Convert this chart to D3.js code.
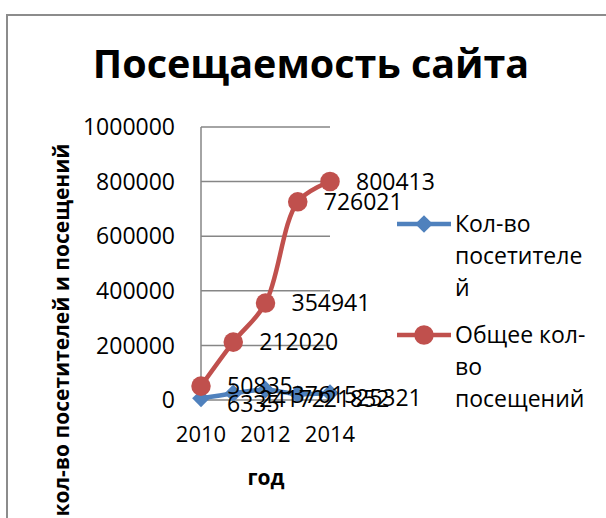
<!DOCTYPE html>
<meta charset="utf-8">
<style>
  body { margin: 0; background: #fff; }
  text { font-family: "Open Sans", sans-serif; fill: #000; }
</style>
<svg width="606" height="518"></svg>
<script src="https://cdn.jsdelivr.net/npm/d3@7"></script>
<script>

var years = [2010, 2011, 2012, 2013, 2014],
    yearTicks = [2010, 2012, 2014],
    visitors = [6335, 24172, 37615, 21852, 25321],
    visits = [50835, 212020, 354941, 726021, 800413],
    valueTicks = [0, 200000, 400000, 600000, 800000, 1000000],
    seriesNames = [["Кол-во", "посетителе", "й"], ["Общее кол-", "во", "посещений"]];

var svg = d3.select("svg"),
    blue = "#4f81bd",
    red = "#c0504d",
    grid = "#868686";

// outer chart frame, cut by the window on the right and bottom
svg.append("path")
    .attr("d", "M7,620V15H700")
    .attr("fill", "none")
    .attr("stroke", "#8c8c8c")
    .attr("stroke-width", 2);

var x = d3.scalePoint().domain(years).range([201, 330]),
    y = d3.scaleLinear().domain([0, 1000000]).range([400, 127]);

// gridlines
svg.append("g").selectAll("line")
    .data(valueTicks)
  .enter().append("line")
    .attr("x1", 201).attr("x2", 330)
    .attr("y1", function(d) { return y(d); })
    .attr("y2", function(d) { return y(d); })
    .attr("stroke", grid)
    .attr("stroke-width", 1.5);

svg.append("line")
    .attr("x1", 201).attr("x2", 201)
    .attr("y1", y(1000000)).attr("y2", y(0))
    .attr("stroke", grid)
    .attr("stroke-width", 1.5);

// y tick labels
svg.append("g").selectAll("text")
    .data(valueTicks)
  .enter().append("text")
    .attr("x", 175)
    .attr("y", function(d) { return y(d); })
    .attr("dy", "0.36em")
    .attr("text-anchor", "end")
    .style("font-size", "23px")
    .text(function(d) { return d; });

// x tick labels
svg.append("g").selectAll("text")
    .data(yearTicks)
  .enter().append("text")
    .attr("x", function(d) { return x(d); })
    .attr("y", 442)
    .attr("text-anchor", "middle")
    .style("font-size", "22px")
    .text(function(d) { return d; });

// titles
svg.append("text")
    .attr("x", 311).attr("y", 78)
    .attr("text-anchor", "middle")
    .style("font-size", "39.5px")
    .style("font-weight", "bold")
    .text("Посещаемость сайта");

svg.append("text")
    .attr("x", 266).attr("y", 485)
    .attr("text-anchor", "middle")
    .style("font-size", "21px")
    .style("font-weight", "bold")
    .text("год");

svg.append("text")
    .attr("transform", "translate(69,330) rotate(-90)")
    .attr("text-anchor", "middle")
    .style("font-size", "21px")
    .style("font-weight", "bold")
    .text("кол-во посетителей и посещений");

var line = d3.line()
    .x(function(d, i) { return x(years[i]); })
    .y(function(d) { return y(d); })
    .curve(d3.curveCatmullRom.alpha(0.5));

var diamond = d3.symbol().type(d3.symbolDiamond2).size(200),
    circle = d3.symbol().type(d3.symbolCircle).size(300);

function drawSeries(values, color, symbol, labelDy) {
  var g = svg.append("g");
  g.append("path")
      .attr("d", line(values))
      .attr("fill", "none")
      .attr("stroke", color)
      .attr("stroke-width", 4.5);
  g.selectAll("path.m")
      .data(values)
    .enter().append("path")
      .attr("class", "m")
      .attr("transform", function(d, i) { return "translate(" + x(years[i]) + "," + y(d) + ")"; })
      .attr("d", symbol)
      .attr("fill", color);
  g.selectAll("text")
      .data(values)
    .enter().append("text")
      .attr("x", function(d, i) { return x(years[i]) + 26; })
      .attr("y", function(d) { return y(d) + labelDy; })
      .attr("dy", "0.36em")
      .style("font-size", "23px")
      .text(function(d) { return d; });
}

drawSeries(visitors, blue, diamond, 5);
drawSeries(visits, red, circle, 0);

// legend
var legend = svg.append("g").selectAll("g")
    .data([{c: blue, s: diamond, ly: 224, n: seriesNames[0]}, {c: red, s: circle, ly: 335, n: seriesNames[1]}])
  .enter().append("g");

legend.append("line")
    .attr("x1", 397).attr("x2", 451)
    .attr("y1", function(d) { return d.ly; })
    .attr("y2", function(d) { return d.ly; })
    .attr("stroke", function(d) { return d.c; })
    .attr("stroke-width", 4.5);

legend.append("path")
    .attr("transform", function(d) { return "translate(424," + d.ly + ")"; })
    .attr("d", function(d) { return d.s(); })
    .attr("fill", function(d) { return d.c; });

legend.each(function(d) {
  d3.select(this).selectAll("text")
      .data(d.n)
    .enter().append("text")
      .attr("x", 455)
      .attr("y", function(t, i) { return d.ly + 8 + i * 32; })
      .style("font-size", "23px")
      .text(function(t) { return t; });
});

</script>
